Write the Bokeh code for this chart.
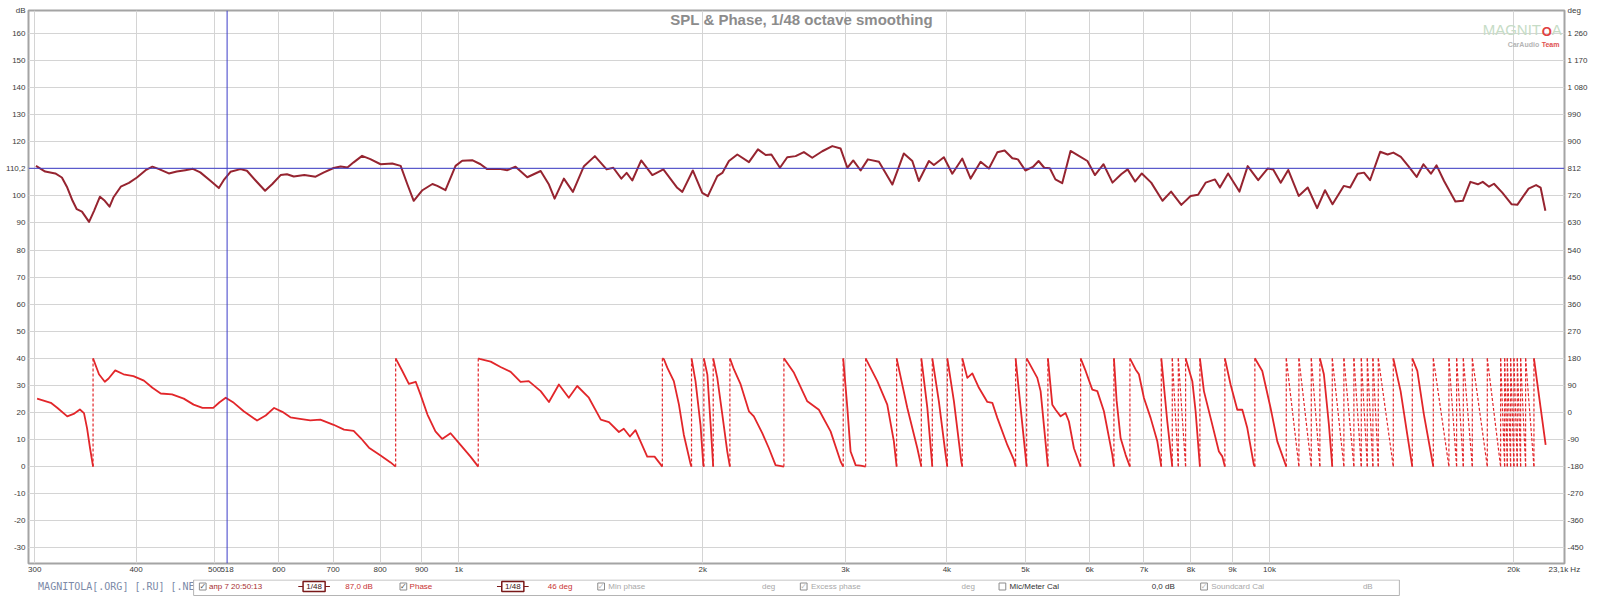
from bokeh.plotting import figure
from bokeh.models import Range1d, LinearAxis, FixedTicker, Span, Label
from bokeh.layouts import column
from bokeh.embed import file_html
from bokeh.resources import INLINE
from bokeh.core.properties import value

# ---------------- data ----------------
title_text = "SPL & Phase, 1/48 octave smoothing"

spl_freq = [301, 309, 318, 324, 329, 334, 338, 343, 350, 355,
            361, 366, 371, 375, 383, 392, 401, 411, 419, 427,
            439, 449, 460, 470, 480, 494, 506, 513, 523, 538,
            548, 562, 577, 589, 603, 614, 626, 645, 666, 682,
            701, 715, 729, 742, 760, 778, 801, 828, 848, 864,
            880, 902, 928, 941, 963, 991, 1010, 1039, 1064, 1084,
            1126, 1148, 1175, 1215, 1262, 1292, 1313, 1348, 1383, 1427,
            1472, 1522, 1551, 1587, 1611, 1637, 1679, 1733, 1788, 1860,
            1887, 1944, 1997, 2029, 2084, 2114, 2154, 2206, 2280, 2339,
            2391, 2430, 2490, 2542, 2603, 2665, 2729, 2808, 2889, 2958,
            3015, 3066, 3131, 3196, 3298, 3361, 3426, 3540, 3626, 3694,
            3801, 3855, 3966, 4062, 4179, 4279, 4402, 4507, 4616, 4713,
            4817, 4894, 4999, 5107, 5190, 5274, 5358, 5444, 5550, 5683,
            5805, 5962, 6090, 6241, 6402, 6562, 6683, 6826, 6958, 7146,
            7379, 7561, 7784, 7992, 8164, 8340, 8565, 8685, 8890, 9180,
            9399, 9683, 9946, 10105, 10323, 10545, 10864, 11146, 11447, 11707,
            11959, 12346, 12573, 12843, 13079, 13304, 13691, 13986, 14214, 14520,
            14833, 15186, 15482, 15815, 16069, 16415, 16951, 17316, 17689, 18070,
            18323, 18653, 18916, 19367, 19891, 20210, 20870, 21319, 21593, 21889]

spl_db = [111.1, 109.0, 108.3, 106.8, 103.1, 98.2, 95.1, 94.2, 90.4, 94.5,
          99.7, 98.2, 96.0, 99.4, 103.4, 104.8, 106.8, 109.5, 110.8, 109.9,
          108.3, 109.0, 109.5, 110.0, 108.7, 105.6, 102.9, 105.8, 108.9, 109.9,
          109.3, 105.6, 101.9, 104.4, 107.7, 108.0, 107.2, 107.7, 107.1, 108.7,
          110.3, 110.9, 110.5, 112.4, 114.8, 113.6, 111.7, 112.0, 111.1, 104.4,
          98.2, 102.1, 104.4, 103.7, 102.1, 111.1, 113.0, 113.2, 111.7, 109.9,
          109.9, 109.5, 110.8, 106.9, 109.2, 104.2, 99.0, 106.4, 101.5, 111.0,
          114.7, 109.8, 110.4, 106.4, 108.5, 105.7, 113.1, 107.7, 109.8, 103.0,
          101.5, 109.4, 101.1, 99.9, 107.3, 108.5, 112.9, 115.3, 112.5, 117.2,
          115.1, 115.3, 110.4, 114.3, 114.7, 116.2, 114.1, 116.5, 118.4, 117.5,
          110.4, 113.1, 109.4, 113.5, 112.6, 108.5, 104.2, 115.7, 112.9, 105.5,
          112.9, 111.4, 114.3, 108.2, 113.8, 106.4, 112.6, 110.1, 116.1, 116.8,
          113.9, 113.5, 109.4, 110.7, 112.9, 110.4, 110.2, 106.1, 104.7, 116.6,
          115.0, 112.9, 107.7, 111.7, 104.9, 108.0, 109.8, 105.3, 108.3, 104.9,
          98.2, 101.6, 96.7, 100.0, 100.4, 104.9, 106.1, 103.1, 108.3, 101.6,
          111.0, 105.8, 110.1, 109.8, 104.9, 109.6, 100.0, 103.1, 95.5, 102.1,
          96.9, 103.7, 103.1, 108.2, 108.6, 105.8, 116.3, 115.3, 116.0, 114.4,
          111.0, 107.0, 111.7, 108.2, 111.3, 105.5, 97.9, 98.2, 105.2, 104.3,
          105.2, 103.4, 104.5, 101.2, 96.9, 96.7, 102.7, 104.0, 103.1, 94.5]

# phase (Hz, deg), wrapped to +-180; a wrap is a pair (f,-180),(f,180)
phase_pts = [
    (302, 46), (314, 32), (320, 15), (329, -13), (335, -5), (341, 10), (345, -2), (348, -52), (351, -119), (354, -180),
    (354, 180), (355, 171), (360, 127), (366, 102), (370, 113), (377, 140), (386, 127), (397, 121), (409, 106), (419, 82),
    (429, 63), (443, 60), (458, 46), (471, 26), (483, 15), (498, 15), (507, 34), (516, 49), (528, 32), (543, 4),
    (564, -27), (578, -10), (592, 15), (606, 2), (620, -16), (637, -21), (656, -26), (675, -24), (701, -41), (722, -57),
    (742, -61), (757, -85), (775, -117), (801, -143), (824, -166), (836, -180),
    (836, 180), (852, 138), (868, 95), (885, 102), (897, 60), (915, -7), (936, -63), (954, -88), (977, -69), (1005, -108),
    (1034, -147), (1057, -180),
    (1057, 180), (1064, 177), (1095, 169), (1126, 151), (1159, 135), (1192, 102), (1220, 104), (1262, 71), (1292, 35),
    (1329, 93), (1367, 49), (1400, 88), (1447, 49), (1497, -24), (1532, -32), (1576, -65), (1598, -54), (1626, -80),
    (1652, -59), (1708, -147), (1744, -147), (1783, -180),
    (1783, 180), (1791, 177), (1808, 149), (1842, 104), (1869, 26), (1895, -74), (1932, -172), (1937, -180),
    (1937, 180), (1959, 104), (1987, -41), (2003, -175), (2006, -180),
    (2006, 180), (2026, 126), (2045, -41), (2060, -180),
    (2060, 180), (2084, 115), (2114, -7), (2144, -130), (2160, -180),
    (2160, 180), (2185, 143), (2227, 93), (2280, 4), (2312, -13), (2368, -69), (2413, -119), (2459, -175), (2518, -180),
    (2518, 180), (2591, 132), (2691, 37), (2781, 9), (2875, -63), (2958, -163), (2980, -180),
    (2980, 180), (3015, 15), (3043, -130), (3087, -175), (3131, -177), (3176, -180),
    (3176, 180), (3283, 104), (3377, 26), (3441, -96), (3468, -180),
    (3468, 180), (3575, 15), (3678, -119), (3720, -180),
    (3720, 180), (3784, 15), (3838, -180),
    (3838, 180), (3910, 37), (3986, -141), (4005, -180),
    (4005, 180), (4081, 37), (4167, -163), (4179, -180),
    (4179, 180), (4239, 115), (4300, 130), (4381, 82), (4487, 35), (4551, 32), (4616, -18), (4749, -108), (4839, -158), (4862, -180),
    (4862, 180), (4932, 15), (5017, -180),
    (5017, 180), (5171, 115), (5220, 71), (5329, -180),
    (5329, 180), (5396, 26), (5447, 9), (5525, -13), (5604, -2), (5657, -30), (5738, -119), (5836, -174), (5848, -180),
    (5848, 180), (5932, 138), (6045, 76), (6132, 71), (6248, 4), (6399, -141), (6428, -180),
    (6428, 180), (6477, 40), (6551, -85), (6645, -141), (6727, -180),
    (6727, 180), (6836, 143), (6901, 127), (7000, 48), (7134, -18), (7271, -96), (7354, -180),
    (7354, 180), (7480, -30), (7587, -180),
    (7587, 180), (7718, -180),
    (7718, 180), (7879, -180),
    (7879, 180), (8031, 104), (8106, 4), (8206, -180),
    (8206, 180), (8300, 71), (8459, -18), (8661, -130), (8745, -146), (8809, -180),
    (8809, 180), (8953, 93), (9125, 9), (9256, 9), (9388, -52), (9565, -174), (9592, -180),
    (9592, 180), (9796, 138), (10030, 15), (10223, -96), (10467, -174), (10487, -180),
    (10487, 180), (10870, -180),
    (10870, 180), (11259, -180),
    (11259, 180), (11537, -180),
    (11537, 180), (11669, 127), (11836, -40), (11951, -180),
    (11951, 180), (12351, -180),
    (12351, 180), (12707, -180),
    (12707, 180), (12977, -180),
    (12977, 180), (13200, -180),
    (13200, 180), (13412, -180),
    (13412, 180), (13619, -180),
    (13619, 180), (14212, -180),
    (14212, 180), (14510, 71), (14788, -74), (15000, -180),
    (15000, 180), (15215, 138), (15503, -7), (15922, -180),
    (15922, 180), (16643, -180),
    (16643, 180), (17011, -180),
    (17011, 180), (17338, -180),
    (17338, 180), (17787, -180),
    (17787, 180), (18561, -180),
    (18561, 180), (19275, -180),
    (19275, 180), (19496, -180),
    (19496, 180), (19646, -180),
    (19646, 180), (19831, -180),
    (19831, 180), (20017, -180),
    (20017, 180), (20211, -180),
    (20211, 180), (20402, -180),
    (20402, 180), (20693, -180),
    (20693, 180), (21189, -180),
    (21189, 180), (21596, 15), (21905, -108),
]
phase_freq = [f for f, _ in phase_pts]
phase_deg = [d for _, d in phase_pts]

x_ticks = [300, 400, 500, 600, 700, 800, 900, 1000, 2000, 3000, 4000, 5000,
           6000, 7000, 8000, 9000, 10000, 20000, 23100]
x_tick_labels = ["300", "400", "500", "600", "700", "800", "900", "1k", "2k", "3k", "4k", "5k",
                 "6k", "7k", "8k", "9k", "10k", "20k", "23,1k Hz"]
x_grid = x_ticks[:-1]
db_grid = list(range(-30, 161, 10))
db_ticks = [v for v in db_grid if v != 110]
deg_ticks = [v for v in range(-450, 1261, 90) if v != 810]

cursor_freq = 518
cursor_db = 110.2
cursor_deg = 812

legend_items = [("апр 7 20:50:13", "#a83030"), ("87,0 dB", "#c83232"), ("Phase", "#c83232"),
                ("46 deg", "#c83232"), ("Min phase", "#a8a8a8"), ("deg", "#a8a8a8"),
                ("Excess phase", "#a8a8a8"), ("deg", "#a8a8a8"), ("Mic/Meter Cal", "#303030"),
                ("0,0 dB", "#303030"), ("Soundcard Cal", "#a8a8a8"), ("dB", "#a8a8a8")]
smoothing_text = "1/48"
watermark = "MAGNITOLA[.ORG] [.RU] [.NET]"

# ---------------- style / layout ----------------
FONT = "Liberation Sans"
X0, X1 = 294.7, 23110
Y0, Y1 = -35.8, 168.5
GRID = "#d4d4d4"
SPL_C = "#962430"
PH_C = "#e2262a"
CUR_C = "#3c3cc8"
LBL_C = "#3a3a3a"


def to_deg(v):
    return 9 * v - 180


def fmt_num(v):
    s = str(abs(int(v)))
    if len(s) > 3:
        s = s[:-3] + " " + s[-3:]
    return ("-" if v < 0 else "") + s


p = figure(width=1600, height=579, x_axis_type="log",
           x_range=Range1d(X0, X1), y_range=Range1d(Y0, Y1),
           output_backend="svg", toolbar_location=None,
           min_border_left=28, min_border_right=36, min_border_top=10, min_border_bottom=16,
           background_fill_color="white", border_fill_color="white")
p.extra_y_ranges = {"deg": Range1d(to_deg(Y0), to_deg(Y1))}
p.outline_line_color = "#a4a4a4"
p.outline_line_width = 2

# x axis (plus the cursor frequency readout)
xt = x_ticks + [cursor_freq]
xl = x_tick_labels + [str(cursor_freq)]
xa = p.xaxis[0]
xa.ticker = FixedTicker(ticks=xt)
xa.major_label_overrides = {t: l for t, l in zip(xt, xl)}

# left axis: dB (plus cursor readout and unit)
top_db = Y1 - 0.01
lt = db_ticks + [cursor_db, top_db]
ll = [fmt_num(v) for v in db_ticks] + [f"{cursor_db:.1f}".replace(".", ","), "dB"]
ya = p.yaxis[0]
ya.ticker = FixedTicker(ticks=lt)
ya.major_label_overrides = {t: l for t, l in zip(lt, ll)}

# right axis: deg (plus cursor readout and unit)
top_deg = to_deg(Y1) - 0.1
rt = deg_ticks + [cursor_deg, top_deg]
rl = [fmt_num(v) for v in deg_ticks] + [str(cursor_deg), "deg"]
ra = LinearAxis(y_range_name="deg", ticker=FixedTicker(ticks=rt))
ra.major_label_overrides = {t: l for t, l in zip(rt, rl)}
p.add_layout(ra, "right")

for ax in (xa, ya, ra):
    ax.major_tick_out = 0
    ax.major_tick_in = 0
    ax.minor_tick_out = 0
    ax.minor_tick_in = 0
    ax.axis_line_color = None
    ax.major_label_text_font = FONT
    ax.major_label_text_font_size = "8px"
    ax.major_label_text_color = LBL_C
    ax.major_label_standoff = 3
xa.major_label_standoff = 1

p.xgrid[0].ticker = FixedTicker(ticks=x_grid)
p.ygrid[0].ticker = FixedTicker(ticks=db_grid)
p.xgrid[0].grid_line_color = GRID
p.ygrid[0].grid_line_color = GRID

# SPL
p.line(spl_freq, spl_db, line_color=SPL_C, line_width=2, line_join="round")

# phase: solid pieces and dashed wrap jumps
seg_x, seg_y, jump_x, jump_y = [], [], [], []
cx, cy = [phase_freq[0]], [phase_deg[0]]
for f, d in zip(phase_freq[1:], phase_deg[1:]):
    if abs(d - cy[-1]) > 300:
        jump_x.append([cx[-1], f])
        jump_y.append([cy[-1], d])
        seg_x.append(cx)
        seg_y.append(cy)
        cx, cy = [f], [d]
    else:
        cx.append(f)
        cy.append(d)
seg_x.append(cx)
seg_y.append(cy)
p.multi_line(jump_x, jump_y, y_range_name="deg", line_color=PH_C, line_width=1.2, line_dash="3 2")
p.multi_line(seg_x, seg_y, y_range_name="deg", line_color=PH_C, line_width=1.8, line_join="round")

# cursors
p.add_layout(Span(location=cursor_freq, dimension="height", line_color=CUR_C, line_width=1))
p.add_layout(Span(location=cursor_db, dimension="width", line_color=CUR_C, line_width=1))

# title (inside the frame, as in the original)
p.add_layout(Label(x=2648, y=165.2, text=title_text, text_align="center", text_baseline="middle",
                   text_font=FONT, text_font_size="15px", text_font_style="bold", text_color="#8c8c8c"))

# logo watermark (top right, inside the frame)
p.add_layout(Label(x=18318, y=164.8, text="MAGNIT", text_align="left", text_baseline="top",
                   text_font=FONT, text_font_size="15px", text_color="#c6dcc6"))
p.add_layout(Label(x=21661, y=163.4, text="O", text_align="left", text_baseline="top",
                   text_font=FONT, text_font_size="13px", text_font_style="bold", text_color="#e04040"))
p.add_layout(Label(x=22285, y=164.8, text="A", text_align="left", text_baseline="top",
                   text_font=FONT, text_font_size="15px", text_color="#c6dcc6"))
p.add_layout(Label(x=19666, y=157.4, text="CarAudio", text_align="left", text_baseline="top",
                   text_font=FONT, text_font_size="7px", text_font_style="bold", text_color="#b4b4b4"))
p.add_layout(Label(x=21661, y=157.4, text="Team", text_align="left", text_baseline="top",
                   text_font=FONT, text_font_size="7px", text_font_style="bold", text_color="#e05050"))

# ---------------- bottom legend strip ----------------
q = figure(width=1600, height=17, x_range=Range1d(0, 1600), y_range=Range1d(0, 17),
           output_backend="svg", toolbar_location=None, x_axis_location=None, y_axis_location=None,
           min_border=0, background_fill_color="white", border_fill_color="white")
q.grid.visible = False
q.outline_line_color = None

q.text(x=[10], y=[10], text=[watermark], text_font=value("DejaVu Sans Mono"), text_font_size="10px",
       text_color="#7c8aa8", text_baseline="middle", text_align="left")
q.quad(left=[172], right=[1428], top=[16.5], bottom=[1], fill_color="white", line_color="#b4b4b4", line_width=1)

item_x = [188, 330, 397, 541, 604, 764, 815, 972, 1022, 1170, 1232, 1390]
q.text(x=item_x, y=[10] * len(item_x), text=[t for t, _ in legend_items],
       text_color=[c for _, c in legend_items], text_font=value(FONT), text_font_size="8px",
       text_baseline="middle", text_align="left")

box_x = [178, 387, 593, 804, 1011, 1221]
box_state = ["#505050", "#505050", "#b8b8b8", "#b8b8b8", None, "#b8b8b8"]
q.quad(left=box_x, right=[b + 7 for b in box_x], top=[13.5] * 6, bottom=[6.5] * 6,
       fill_color="white", line_color="#8c8c8c", line_width=1)
cx_ = [b for b, s in zip(box_x, box_state) if s]
cc_ = [s for s in box_state if s]
q.text(x=[b + 3.5 for b in cx_], y=[10] * len(cx_), text=["✓"] * len(cx_), text_color=cc_,
       text_font=value("DejaVu Sans"), text_font_size="8px", text_align="center", text_baseline="middle")

sm_x = [286, 493]
q.segment(x0=[b - 5 for b in sm_x], x1=[b + 28 for b in sm_x], y0=[10, 10], y1=[10, 10],
        line_color="#7a1a1a", line_width=1.2)
q.quad(left=sm_x, right=[b + 23 for b in sm_x], top=[15, 15], bottom=[5, 5],
       fill_color="white", line_color="#7a1a1a", line_width=1.5)
q.text(x=[b + 11.5 for b in sm_x], y=[10, 10], text=[smoothing_text] * 2, text_color="#3a1010",
       text_font=value(FONT), text_font_size="8px", text_align="center", text_baseline="middle")

layout = column(p, q, spacing=0)
open("out.html", "w").write(file_html(layout, INLINE))
